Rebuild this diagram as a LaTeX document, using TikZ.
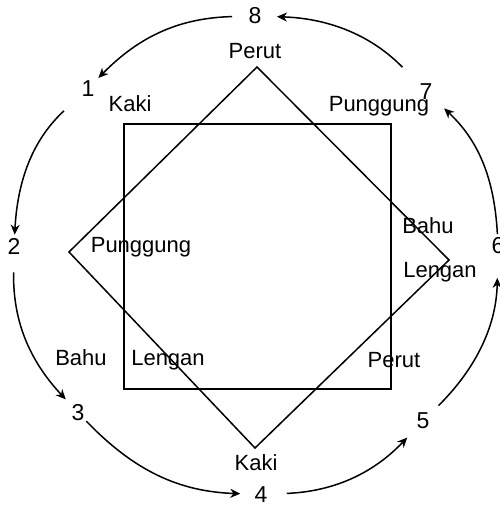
\documentclass[tikz,border=0pt]{standalone}
\usepackage{fontspec}
\setmainfont{Liberation Sans}
\usetikzlibrary{arrows.meta}
\begin{document}
\begin{tikzpicture}[x=1pt,y=1pt,
  lbl/.style={anchor=base,inner sep=0pt,font=\fontsize{22}{26}\selectfont},
  num/.style={circle,inner sep=1pt,font=\fontsize{23}{27}\selectfont},
  outline/.style={line width=1.5pt,line join=miter},
  arr/.style={line width=1.5pt,-{Stealth[length=10pt,width=9pt]}}]
\useasboundingbox (0,0) rectangle (500,506);
% square
\coordinate (s1) at (124,382);
\coordinate (s2) at (391,117);
\draw[outline] (s1) rectangle (s2);
% diamond
\coordinate (dt) at (257,439);
\coordinate (dr) at (449,246);
\coordinate (db) at (255,58);
\coordinate (dl) at (69,254);
\draw[outline] (dt) -- (dr) -- (db) -- (dl) -- cycle;
% labels
\node[lbl] (perutT) at (255,447) {Perut};
\node[lbl] (kakiT) at (130,394) {Kaki};
\node[lbl] (pungR) at (379,394) {Punggung};
\node[lbl] (pungL) at (141,253) {Punggung};
\node[lbl] (bahuR) at (428,272) {Bahu};
\node[lbl] (lenganR) at (440,228) {Lengan};
\node[lbl] (bahuL) at (81,140) {Bahu};
\node[lbl] (lenganL) at (168,140) {Lengan};
\node[lbl] (perutB) at (394,138) {Perut};
\node[lbl] (kakiB) at (256,35) {Kaki};
% numbers
\node[num] (n8) at (255,490) {8};
\node[num] (n1) at (88,417.5) {1};
\node[num] (n2) at (14,259.5) {2};
\node[num] (n3) at (78,93.5) {3};
\node[num] (n4) at (261,11.5) {4};
\node[num] (n5) at (423,85) {5};
\node[num] (n6) at (498,260) {6};
\node[num] (n7) at (426,414.5) {7};
% arrows
\draw[arr,shorten <=11pt,shorten >=3pt] (n8) to[bend right=22] (n1);
\draw[arr,shorten <=21pt,shorten >=0pt] (n1) to[bend right=22] (n2);
\draw[arr,shorten <=14pt,shorten >=6pt] (n2) to[bend right=22] (n3);
\draw[arr,shorten <=0pt,shorten >=9pt] (n3) to[bend right=22] (n4);
\draw[arr,shorten <=14pt,shorten >=11pt] (n4) to[bend right=22] (n5);
\draw[arr,shorten <=10pt,shorten >=20pt] (n5) to[bend right=22] (n6);
\draw[arr,shorten <=0pt,shorten >=13pt] (n6) to[bend right=22] (n7);
\draw[arr,shorten <=22pt,shorten >=10pt] (n7) to[bend right=22] (n8);
\end{tikzpicture}
\end{document}
